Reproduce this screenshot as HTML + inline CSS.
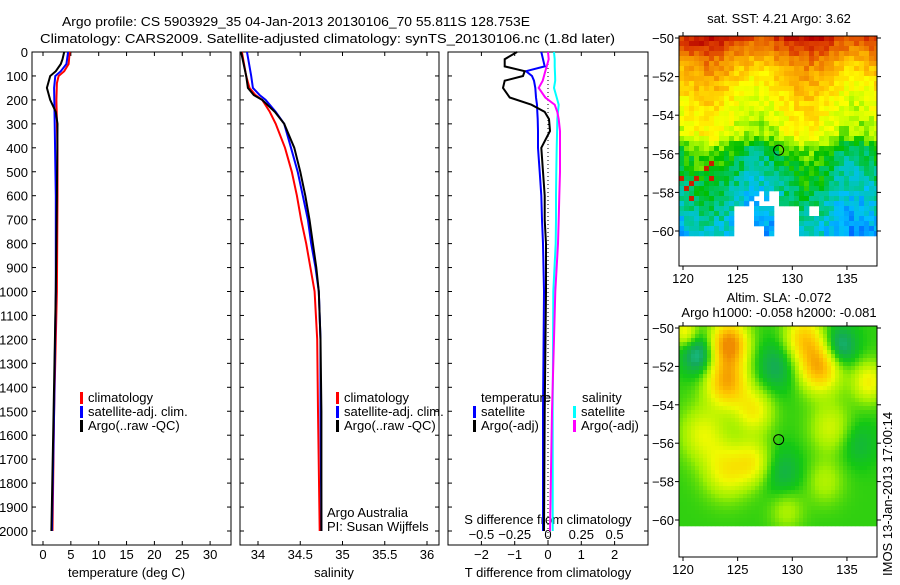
<!DOCTYPE html>
<html><head><meta charset="utf-8"><style>
body{margin:0;background:#fff;}
svg text{font-family:"Liberation Sans",sans-serif;font-size:13px;fill:#000;}
</style></head><body>
<svg id="c" width="900" height="580" xmlns="http://www.w3.org/2000/svg"></svg>
<script>
// ---- data ----
const depthTClim=[0,50,80,100,130,200,400,600,1000,1500,2000];
const tClim=[4.8,4.6,3.8,2.8,2.5,2.4,2.6,2.6,2.5,2.0,1.7];
const depthTSat=[0,50,80,100,150,300,600,1000,1500,2000];
const tSat=[4.5,4.2,3.2,2.2,2.0,2.1,2.3,2.3,2.0,1.6];
const depthTArgo=[0,30,50,80,100,150,200,250,300,600,1000,1500,2000];
const tArgo=[3.8,3.5,3.2,2.3,1.3,0.7,1.3,2.3,2.6,2.5,2.3,1.9,1.5];
const depthS=[0,100,150,180,200,250,300,400,500,600,700,800,900,1000,1200,1500,2000];
const sClim=[33.81,33.86,33.9,33.97,34.05,34.14,34.21,34.32,34.4,34.46,34.51,34.57,34.62,34.67,34.7,34.71,34.73];
const sSat=[33.87,33.92,33.94,34.02,34.09,34.21,34.31,34.39,34.47,34.53,34.59,34.63,34.68,34.72,34.74,34.74,34.75];
const sArgo=[33.8,33.86,33.88,33.95,34.05,34.2,34.31,34.43,34.5,34.56,34.61,34.65,34.69,34.72,34.74,34.75,34.75];
const depthD=[0,30,60,80,100,120,150,190,220,250,280,330,400,500,600,700,800,1000,1500,2000];
const dTArgo=[-0.93,-1.3,-1.3,-0.7,-0.75,-1.3,-1.35,-1.15,-0.5,-0.1,0.03,0.06,-0.2,-0.15,-0.1,-0.1,-0.06,-0.06,-0.1,-0.12];
const dTSat=[-0.2,-0.15,-0.1,-0.66,-0.48,-0.42,-0.38,-0.36,-0.33,-0.32,-0.31,-0.3,-0.3,-0.25,-0.2,-0.18,-0.15,-0.12,-0.15,-0.15];
const dSArgo=[0,0.005,-0.01,-0.02,-0.03,-0.04,-0.07,-0.02,0.05,0.07,0.08,0.09,0.09,0.09,0.085,0.08,0.075,0.055,0.03,0.015];
const dSSat=[0.045,0.05,0.05,0.052,0.053,0.054,0.045,0.065,0.08,0.075,0.07,0.068,0.065,0.062,0.06,0.06,0.058,0.04,0.035,0.035];
const depthTicks=[0,100,200,300,400,500,600,700,800,900,1000,1100,1200,1300,1400,1500,1600,1700,1800,1900,2000];
const tTicks=[0,5,10,15,20,25,30];
const sTicks=[34,34.5,35,35.5,36];
const dTTicks=[-2,-1,0,1,2];
const dSTicks=[-0.5,-0.25,0,0.25,0.5];
const latTicks=[-50,-52,-54,-56,-58,-60];
const lonTicks=[120,125,130,135];

const NS="http://www.w3.org/2000/svg";
const svg=document.getElementById('c');
function el(t,a,p){const e=document.createElementNS(NS,t);for(const k in a)e.setAttribute(k,a[k]);(p||svg).appendChild(e);return e;}
function txt(x,y,s,anchor,p){const e=el('text',{x:x,y:y,'text-anchor':anchor||'start'},p);e.textContent=s;return e;}

const Y0=52, YS=0.2395;
const yD=d=>Y0+d*YS;
const xT=v=>43+5.57*v;
const xS=v=>258+84.5*(v-34);
const xdT=v=>548+33.3*v;
const xdS=v=>548+133.2*v;
const panels=[[32,231],[240,439],[448,648]];
const PT=52, PB=545;

function line(xs,ds,fx,color,name,w){
  const g=el('polyline',{points:xs.map((v,i)=>fx(v).toFixed(1)+','+yD(ds[i]).toFixed(1)).join(' '),fill:'none',stroke:color,'stroke-width':w||2});
  
  
}
panels.forEach((p,i)=>{
  const r=el('rect',{x:p[0],y:PT,width:p[1]-p[0],height:PB-PT,fill:'none',stroke:'#000','stroke-width':1});
  
  
  depthTicks.forEach(d=>{
    el('line',{x1:p[0],x2:p[0]+4,y1:yD(d),y2:yD(d),stroke:'#000'});
    el('line',{x1:p[1]-4,x2:p[1],y1:yD(d),y2:yD(d),stroke:'#000'});
  });
});
const ytl=el('g',{});


depthTicks.forEach(d=>txt(28,yD(d)+5,String(d),'end',ytl));
function xticks(ticks,fx,p,y,lab,fmt){
  const g=el('g',{});
  
  
  ticks.forEach(t=>{const x=fx(t);
    el('line',{x1:x,x2:x,y1:PB,y2:PB-4,stroke:'#000'},g);
    el('line',{x1:x,x2:x,y1:PT,y2:PT+4,stroke:'#000'},g);
    txt(x,y,fmt?fmt(t):String(t),'middle',g);});
}
xticks(tTicks,xT,panels[0],559,'temperature-ticks');
xticks(sTicks,xS,panels[1],559,'salinity-ticks');
xticks(dTTicks,xdT,panels[2],559,'t-diff-ticks',t=>String(t).replace('-','\u2212'));
const sg=el('g',{});


dSTicks.forEach(t=>txt(xdS(t),539,String(t).replace('-','\u2212'),'middle',sg));
txt(xT(15),577,'temperature (deg C)','middle');
txt(xS(34.9),577,'salinity','middle');
txt(548,577,'T difference from climatology','middle');
txt(548,524,'S difference from climatology','middle');
el('line',{x1:548,x2:548,y1:PT,y2:PB,stroke:'#000','stroke-dasharray':'1,3'});

line(tClim,depthTClim,xT,'#f00','temp-climatology');
line(tSat,depthTSat,xT,'#00f','temp-satellite');
line(tArgo,depthTArgo,xT,'#000','temp-argo');
line(sClim,depthS,xS,'#f00','sal-climatology');
line(sSat,depthS,xS,'#00f','sal-satellite');
line(sArgo,depthS,xS,'#000','sal-argo');
line(dSSat,depthD,xdS,'#0ff','sdiff-satellite');
line(dSArgo,depthD,xdS,'#f0f','sdiff-argo');
line(dTSat,depthD,xdT,'#00f','tdiff-satellite');
line(dTArgo,depthD,xdT,'#000','tdiff-argo');

function legend(x,y,items,name){
  const g=el('g',{});
  
  
  items.forEach((it,i)=>{const yy=y+i*14;
    if(it[1])el('rect',{x:x,y:yy-10,width:3,height:12,fill:it[1]},g);
    txt(x+(it[1]?8:0),yy,it[0],'start',g);});
}
legend(80,402,[['climatology','#f00'],['satellite-adj. clim.','#00f'],['Argo(..raw -QC)','#000']],'legend-temperature');
legend(336,402,[['climatology','#f00'],['satellite-adj. clim.','#00f'],['Argo(..raw -QC)','#000']],'legend-salinity');
legend(481,402,[['temperature',null]],'legend-tdiff-title');
legend(473,416,[['satellite','#00f'],['Argo(-adj)','#000']],'legend-tdiff');
legend(582,402,[['salinity',null]],'legend-sdiff-title');
legend(573,416,[['satellite','#0ff'],['Argo(-adj)','#f0f']],'legend-sdiff');
txt(327,517,'Argo Australia');
txt(327,531,'PI: Susan Wijffels');

const t1=txt(62,26,'Argo profile: CS 5903929_35 04-Jan-2013 20130106_70 55.811S 128.753E','start');
t1.setAttribute('font-size','14');
t1.setAttribute('textLength','468');t1.setAttribute('lengthAdjust','spacingAndGlyphs');
const t2=txt(40,43,'Climatology: CARS2009. Satellite-adjusted climatology: synTS_20130106.nc (1.8d later)','start');
t2.setAttribute('font-size','14');
t2.setAttribute('textLength','575');t2.setAttribute('lengthAdjust','spacingAndGlyphs');

// ---- maps ----
const MX0=679,MX1=877;
const lonX=l=>683+(l-120)*10.93;
function cmap(stops,v){
  v=Math.max(0,Math.min(1,v));
  for(let i=1;i<stops.length;i++){if(v<=stops[i][0]){const a=stops[i-1],b=stops[i],f=(v-a[0])/(b[0]-a[0]);
    return 'rgb('+[0,1,2].map(k=>Math.round(a[1][k]+(b[1][k]-a[1][k])*f)).join(',')+')';}}
  return 'rgb('+stops[stops.length-1][1].join(',')+')';
}
const jet=[[0,[0,0,190]],[0.15,[0,100,255]],[0.25,[0,190,255]],[0.33,[0,200,150]],[0.42,[0,190,0]],[0.52,[190,255,0]],[0.6,[255,255,0]],[0.7,[255,190,0]],[0.8,[240,130,0]],[0.9,[220,60,0]],[1,[180,0,0]]];
function hash(i,j){let h=(i*374761393+j*668265263)|0;h=(h^(h>>>13))*1274126177|0;return ((h^(h>>>16))>>>0)/4294967296;}
function drawMap(Y0m,Y60,FB,name,cell,valf,holef,stops){
  const g=el('g',{});
  
  
  const ys=(Y60-Y0m)/10, latY=la=>Y0m+(-50-la)*ys;
  const top=Y0m-2;
  for(let y=top,j=0;y<latY(-60.15);y+=cell,j++){
    for(let x=MX0,i=0;x<MX1;x+=cell,i++){
      const lon=120+(x+cell/2-683)/10.93, lat=-50-(y+cell/2-Y0m)/ys;
      if(holef&&holef(lon,lat,i,j))continue;
      el('rect',{x:x,y:y,width:Math.min(cell,MX1-x)+0.3,height:cell+0.3,fill:cmap(stops,valf(lon,lat,i,j))},g);
    }
  }
  const f=el('rect',{x:MX0,y:top,width:MX1-MX0,height:FB-top,fill:'none',stroke:'#000'});
  
  latTicks.forEach(la=>{const y=latY(la);el('line',{x1:MX0-4,x2:MX0,y1:y,y2:y,stroke:'#000'});el('line',{x1:MX1,x2:MX1+4,y1:y,y2:y,stroke:'#000'});
    txt(MX0-5,y+5,String(la).replace('-','\u2212'),'end');});
  lonTicks.forEach(lo=>{const x=lonX(lo);el('line',{x1:x,x2:x,y1:top-4,y2:top,stroke:'#000'});el('line',{x1:x,x2:x,y1:FB,y2:FB+4,stroke:'#000'});
    txt(x,FB+17,String(lo),'middle');});
  const c=el('circle',{cx:lonX(128.753),cy:latY(-55.811),r:5,fill:'none',stroke:'#000'});
  
}
const sstLat=[[-50,0.93],[-51,0.78],[-52,0.68],[-53.5,0.6],[-55,0.55],[-55.8,0.42],[-57,0.37],[-58,0.33],[-60,0.25]];
function sstVal(lon,lat,i,j){
  let v=0.25;for(let k=1;k<sstLat.length;k++){if(lat>=sstLat[k][0]){const a=sstLat[k-1],b=sstLat[k];v=a[1]+(b[1]-a[1])*(lat-a[0])/(b[0]-a[0]);break;}}
  v+=0.06*Math.sin((lon-120)*0.7)+ (hash(i,j)-0.5)*0.1;
  if(lat<-55.5&&lat>-58.5&&lon<123.5&&hash(j,i)>0.9)v=0.95;
  return v;
}
function sstHole(lon,lat,i,j){
  if(lat<-58.6&&((lon>124.8&&lon<127.6&&!(lon>126.6&&lon<127.3&&lat>-59.8))||(lon>128.4&&lon<130.6)||(lon>131.3&&lon<132.3&&lat>-59.3)))return true;
  if(lat<-58&&lon>125.8&&lon<129&&lat>-58.6&&hash(i,j)>0.5)return true;
  return false;
}
drawMap(38,231,266,'sst-map',5,sstVal,sstHole,jet);
const slaStops=[[0.25,[30,210,200]],[0.38,[20,170,90]],[0.48,[20,200,20]],[0.58,[160,240,0]],[0.68,[240,250,0]],[0.8,[255,200,0]],[0.92,[240,140,0]]];
const blobs=[[124.2,-50.8,0.92,0.9],[124,-52.8,0.85,1],[126.5,-54.3,0.7,0.9],[132.5,-52,0.86,1],[131,-50.5,0.76,0.9],[121.8,-55.5,0.66,1.1],[124,-57.4,0.7,1.1],[126.5,-57,0.68,0.9],[133.5,-55.2,0.64,1],[133,-58,0.6,0.9],[137,-52.8,0.7,0.8],[120.2,-50.2,0.7,0.6],[129.5,-59.5,0.6,0.8],[121.5,-51.4,0.3,0.8],[134.3,-51,0.3,0.8],[128.5,-52,0.38,1],[129,-57.5,0.4,1],[136,-56,0.42,0.9]];
function slaVal(lon,lat){
  let v=0.5;
  blobs.forEach(b=>{const d=((lon-b[0])/(1.9*b[3]))**2+((lat-b[1])/(1.3*b[3]))**2;v+=(b[2]-0.5)*Math.exp(-d);});
  return v;
}
drawMap(328,520,557,'sla-map',4,slaVal,null,slaStops);

const mt=txt(779,23,'sat. SST: 4.21  Argo: 3.62','middle');
const m2=txt(779,302,'Altim. SLA: -0.072','middle');
const m3=txt(779,317,'Argo h1000: -0.058 h2000: -0.081','middle');
const im=txt(0,0,'IMOS 13-Jan-2013 17:00:14','start');
im.setAttribute('transform','translate(892,576) rotate(-90)');

</script>
</body></html>
